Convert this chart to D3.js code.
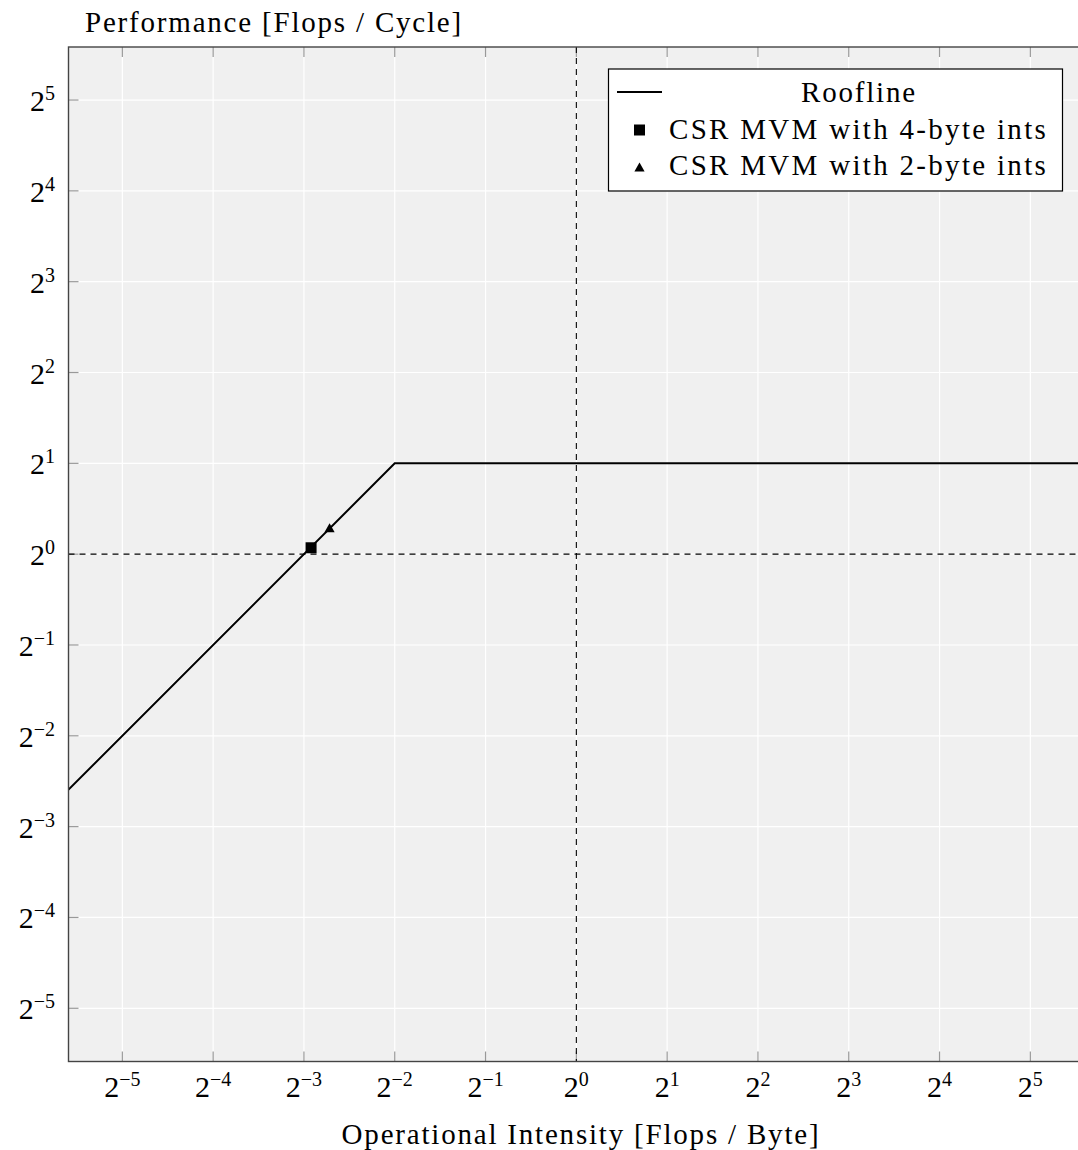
<!DOCTYPE html>
<html>
<head>
<meta charset="utf-8">
<script src="https://cdn.jsdelivr.net/npm/d3@7"></script>
<style>
  body { margin: 0; background: #fff; }
</style>
</head>
<body>
<svg id="chart"></svg>
<script>
// roofline: peak 2 flops/cycle, bandwidth 8 bytes/cycle
let rooflineIntensity = [1 / 64, 0.25, 128];
let rooflinePerf = [0.125, 2, 2];

let seriesNames = ["CSR MVM with 4-byte ints", "CSR MVM with 2-byte ints"];
let pointIntensity = [0.132, 0.152];
let pointPerf = [1.05, 1.21];

let tickExponents = [-5, -4, -3, -2, -1, 0, 1, 2, 3, 4, 5];

let width = 1078;
let height = 1150;
let plotLeft = 68.5, plotTop = 47, plotBottom = 1061.5;
let octave = 90.8;
let FONT = '"Liberation Serif"';
let labelFont = 29, labelSpacing = 1.8;

let svg = d3.select("#chart")
    .attr("width", width)
    .attr("height", height);

let scaleX = d3.scaleLog().base(2)
    .domain([2 ** -5.593, 2 ** 5.7])
    .range([plotLeft, plotLeft + (5.593 + 5.7) * octave]);
let scaleY = d3.scaleLog().base(2)
    .domain([2 ** -5.586, 2 ** 5.584])
    .range([plotBottom, plotTop]);
let plotRight = scaleX.range()[1];

svg.append("defs").append("clipPath").attr("id", "plotClip")
    .append("rect")
    .attr("x", plotLeft).attr("y", plotTop)
    .attr("width", plotRight - plotLeft).attr("height", plotBottom - plotTop);

// background
svg.append("rect")
    .attr("x", plotLeft).attr("y", plotTop)
    .attr("width", plotRight - plotLeft).attr("height", plotBottom - plotTop)
    .attr("fill", "#f0f0f0");

let ticks = tickExponents.map(e => 2 ** e);

// white grid
let grid = svg.append("g").attr("stroke", "#fff").attr("stroke-width", 1.2);
grid.selectAll("line.gx").data(ticks).join("line")
    .attr("class", "gx")
    .attr("x1", d => scaleX(d)).attr("x2", d => scaleX(d))
    .attr("y1", plotTop).attr("y2", plotBottom);
grid.selectAll("line.gy").data(ticks).join("line")
    .attr("class", "gy")
    .attr("x1", plotLeft).attr("x2", plotRight)
    .attr("y1", d => scaleY(d)).attr("y2", d => scaleY(d));

// tick marks on all four sides, pointing inwards
let tickG = svg.append("g").attr("stroke", "#999").attr("stroke-width", 1.2);
tickG.selectAll("line.tb").data(ticks).join("line")
    .attr("class", "tb")
    .attr("x1", d => scaleX(d)).attr("x2", d => scaleX(d))
    .attr("y1", plotBottom).attr("y2", plotBottom - 10);
tickG.selectAll("line.tt").data(ticks).join("line")
    .attr("class", "tt")
    .attr("x1", d => scaleX(d)).attr("x2", d => scaleX(d))
    .attr("y1", plotTop).attr("y2", plotTop + 10);
tickG.selectAll("line.tl").data(ticks).join("line")
    .attr("class", "tl")
    .attr("x1", plotLeft).attr("x2", plotLeft + 10)
    .attr("y1", d => scaleY(d)).attr("y2", d => scaleY(d));
tickG.selectAll("line.tr").data(ticks).join("line")
    .attr("class", "tr")
    .attr("x1", plotRight).attr("x2", plotRight - 10)
    .attr("y1", d => scaleY(d)).attr("y2", d => scaleY(d));

// dashed reference lines at 2^0
let plot = svg.append("g").attr("clip-path", "url(#plotClip)");
plot.append("line")
    .attr("x1", scaleX(1)).attr("x2", scaleX(1))
    .attr("y1", plotTop).attr("y2", plotBottom)
    .attr("stroke", "#000").attr("stroke-width", 1.1)
    .attr("stroke-dasharray", "6,5");
plot.append("line")
    .attr("x1", plotLeft).attr("x2", plotRight)
    .attr("y1", scaleY(1)).attr("y2", scaleY(1))
    .attr("stroke", "#000").attr("stroke-width", 1.1)
    .attr("stroke-dasharray", "6,5");

// roofline
let line = d3.line()
    .x(d => scaleX(d[0]))
    .y(d => scaleY(d[1]));
plot.append("path")
    .datum(rooflineIntensity.map((x, i) => [x, rooflinePerf[i]]))
    .attr("d", line)
    .attr("fill", "none")
    .attr("stroke", "#000")
    .attr("stroke-width", 2);

// measured points
let symbols = [d3.symbolSquare, d3.symbolTriangle];
let symbolSizes = [121, 45];
plot.selectAll("path.point").data(pointIntensity).join("path")
    .attr("class", "point")
    .attr("d", (d, i) => d3.symbol(symbols[i], symbolSizes[i])())
    .attr("transform", (d, i) => `translate(${scaleX(d)}, ${scaleY(pointPerf[i])})`)
    .attr("fill", "#000");

// frame (right edge falls outside the picture)
svg.append("rect")
    .attr("x", plotLeft).attr("y", plotTop)
    .attr("width", plotRight - plotLeft).attr("height", plotBottom - plotTop)
    .attr("fill", "none")
    .attr("stroke", "#444")
    .attr("stroke-width", 1.4);

// tick labels: 2^e
function powLabel(sel, e) {
    sel.append("tspan").text("2");
    sel.append("tspan")
        .attr("dy", -11)
        .attr("font-size", 20)
        .text(e < 0 ? "\u2212" + (-e) : e);
}

svg.append("g").selectAll("text").data(tickExponents).join("text")
    .attr("x", d => scaleX(2 ** d))
    .attr("y", 1097)
    .attr("font-family", FONT)
    .attr("font-size", 30)
    .attr("text-anchor", "middle")
    .each(function (d) { powLabel(d3.select(this), d); });

svg.append("g").selectAll("text").data(tickExponents).join("text")
    .attr("x", 55)
    .attr("y", d => scaleY(2 ** d) + 11)
    .attr("font-family", FONT)
    .attr("font-size", 30)
    .attr("text-anchor", "end")
    .each(function (d) { powLabel(d3.select(this), d); });

// axis titles
svg.append("text")
    .attr("x", 85).attr("y", 32)
    .attr("font-family", FONT)
    .attr("font-size", labelFont)
    .attr("letter-spacing", labelSpacing)
    .text("Performance [Flops / Cycle]");

svg.append("text")
    .attr("x", 581).attr("y", 1144)
    .attr("font-family", FONT)
    .attr("font-size", labelFont)
    .attr("letter-spacing", labelSpacing)
    .attr("text-anchor", "middle")
    .text("Operational Intensity [Flops / Byte]");

// legend
let legend = svg.append("g");
legend.append("rect")
    .attr("x", 608.5).attr("y", 69)
    .attr("width", 454).attr("height", 122)
    .attr("fill", "#fff")
    .attr("stroke", "#000")
    .attr("stroke-width", 1.2);
legend.append("line")
    .attr("x1", 617).attr("x2", 662)
    .attr("y1", 92).attr("y2", 92)
    .attr("stroke", "#000").attr("stroke-width", 2);
legend.append("text")
    .attr("x", 859).attr("y", 101.5)
    .attr("font-family", FONT)
    .attr("font-size", labelFont)
    .attr("letter-spacing", labelSpacing)
    .attr("text-anchor", "middle")
    .text("Roofline");
legend.selectAll("path.key").data(seriesNames).join("path")
    .attr("class", "key")
    .attr("d", (d, i) => d3.symbol(symbols[i], symbolSizes[i])())
    .attr("transform", (d, i) => `translate(639.5, ${130 + i * 38.5})`)
    .attr("fill", "#000");
legend.selectAll("text.key").data(seriesNames).join("text")
    .attr("class", "key")
    .attr("x", 669)
    .attr("y", (d, i) => 139 + i * 36)
    .attr("font-family", FONT)
    .attr("font-size", labelFont)
    .attr("letter-spacing", 2.3)
    .text(d => d);
</script>
</body>
</html>
